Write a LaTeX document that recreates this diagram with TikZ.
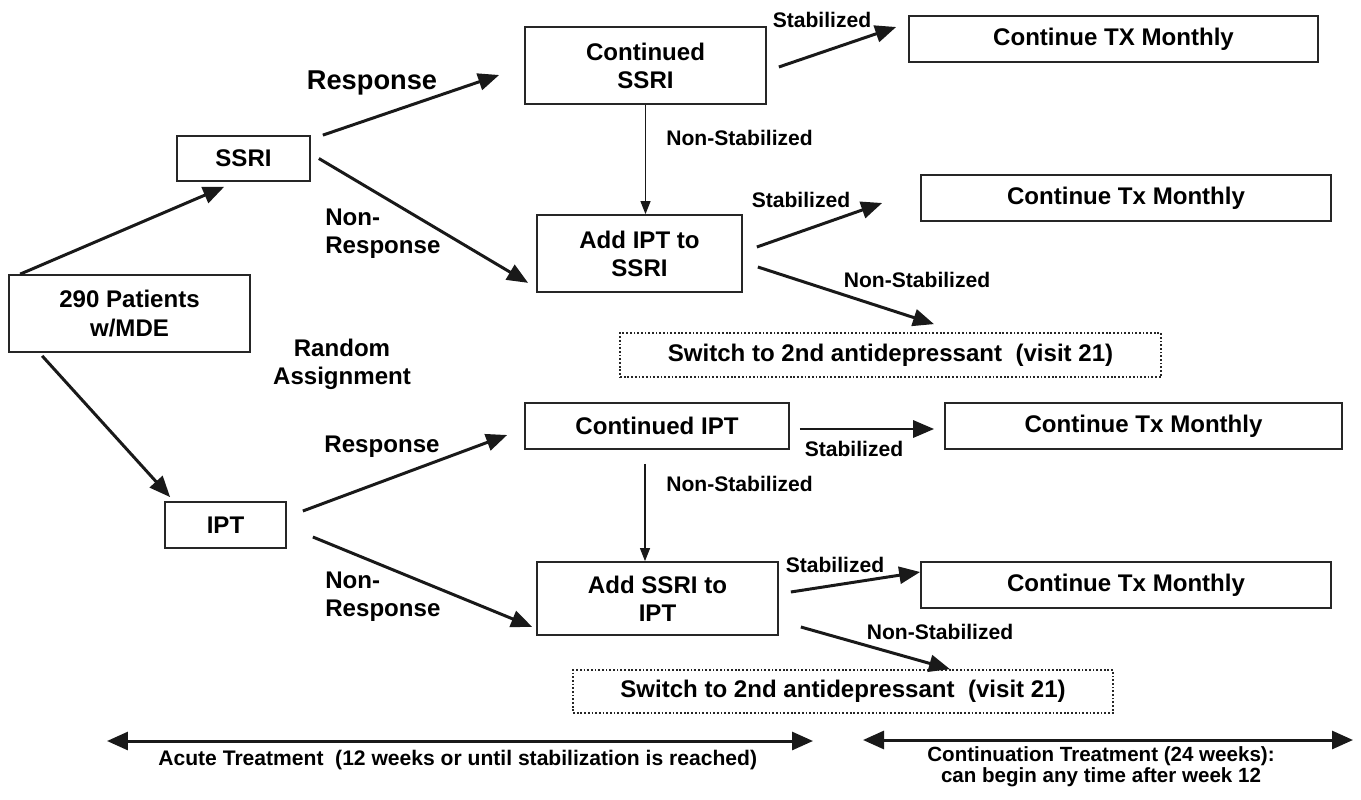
\documentclass[tikz,border=0pt]{standalone}
\usepackage{fontspec}
\setmainfont{Liberation Sans}
\usetikzlibrary{calc,arrows.meta}
\newcommand{\boxfont}{\fontsize{13.7}{16}\selectfont\bfseries}
\newcommand{\bigfont}{\fontsize{15.5}{18}\selectfont\bfseries}
\newcommand{\labfont}{\fontsize{12}{14}\selectfont\bfseries}
\newcommand{\footfont}{\fontsize{11.7}{10.2}\selectfont\bfseries}

\begin{document}
\begin{tikzpicture}[
  x=0.02cm,y=-0.02cm,
  font=\boxfont,
  box/.style={draw=black!85, line width=1pt, inner sep=0pt, align=center, font=\boxfont},
  dotbox/.style={box, dash pattern=on 1pt off 1.1pt},
  arr/.style={line width=1.7pt, draw=black!90, -{Triangle[length=0.42cm,width=0.34cm]}},
  thinarr/.style={line width=0.6pt, draw=black!90, -{Triangle[length=0.26cm,width=0.2cm]}},
  span/.style={line width=1.7pt, draw=black!90, {Triangle[length=0.42cm,width=0.36cm]}-{Triangle[length=0.42cm,width=0.36cm]}},
  lbl/.style={inner sep=0pt, font=\boxfont, align=left},
  small/.style={inner sep=0pt, font=\labfont}
]
  \useasboundingbox (0,0) rectangle (1361,800);

  % boxes
  \node[box, minimum width=4.82cm, minimum height=1.54cm] (pat) at (129.5,313.5) {290 Patients\\w/MDE};
  \node[box, minimum width=2.66cm, minimum height=0.9cm] (ssri) at (243.5,158.5) {SSRI};
  \node[box, minimum width=2.42cm, minimum height=0.92cm] (ipt) at (225.5,525) {IPT};
  \node[box, minimum width=4.82cm, minimum height=1.54cm] (cssri) at (645.5,65.5) {Continued\\SSRI};
  \node[box, minimum width=4.1cm, minimum height=1.54cm] (addipt) at (639.5,253.5) {Add IPT to\\SSRI};
  \node[box, minimum width=5.28cm, minimum height=0.92cm] (cipt) at (657,426) {Continued IPT};
  \node[box, minimum width=4.82cm, minimum height=1.46cm] (addssri) at (657.5,598.5) {Add SSRI to\\IPT};
  \node[box, minimum width=8.18cm, minimum height=0.92cm] (ctxa) at (1113.5,39) {Continue TX Monthly};
  \node[box, minimum width=8.2cm, minimum height=0.92cm] (ctxb) at (1126,198) {Continue Tx Monthly};
  \node[box, minimum width=7.94cm, minimum height=0.92cm] (ctxc) at (1143.5,426) {Continue Tx Monthly};
  \node[box, minimum width=8.2cm, minimum height=0.92cm] (ctxd) at (1126,585) {Continue Tx Monthly};
  \node[dotbox, minimum width=10.82cm, minimum height=0.88cm] (swa) at (890.5,355) {Switch to 2nd antidepressant~ (visit 21)};
  \node[dotbox, minimum width=10.8cm, minimum height=0.86cm] (swb) at (843,691.5) {Switch to 2nd antidepressant~ (visit 21)};

  % labels
  \node[lbl, font=\bigfont] (respa) at (372,83) {Response};
  \node[lbl, anchor=west] (nonrespa) at (325,234) {Non-\\Response};
  \node[lbl, align=center] (random) at (342,364) {Random\\Assignment};
  \node[lbl] (respb) at (382,447) {Response};
  \node[lbl, anchor=west] (nonrespb) at (325,597) {Non-\\Response};
  \node[small, anchor=west] (nonstaba) at (666,138) {Non-Stabilized};
  \node[small] (staba) at (822,20) {Stabilized};
  \node[small] (stabb) at (801,200) {Stabilized};
  \node[small] (nonstabb) at (917,280) {Non-Stabilized};
  \node[small, anchor=west] (nonstabc) at (666,484) {Non-Stabilized};
  \node[small] (stabc) at (854,449) {Stabilized};
  \node[small] (stabd) at (835,565) {Stabilized};
  \node[small] (nonstabd) at (940,632) {Non-Stabilized};

  % connectors
  \draw[arr] ($(pat.north west)+(12,0)$) -- ($(ssri.south west)+(48,5)$);
  \draw[arr] ($(pat.south west)+(34,3)$) -- ($(ipt.north west)+(6,-4)$);
  \draw[arr] ($(ssri.north east)+(12,0)$) -- ($(cssri.west)+(-25,9.5)$);
  \draw[arr] ($(ssri.east)+(8,0)$) -- ($(addipt.south west)+(-8,-10)$);
  \draw[thinarr] (cssri.south) -- (cssri.south |- addipt.north);
  \draw[arr] ($(cssri.east)+(12,1.5)$) -- ($(ctxa.west)+(-12,-12)$);
  \draw[arr] ($(addipt.east)+(14,-6.5)$) -- ($(ctxb.west)+(-38,5)$);
  \draw[arr] ($(addipt.east)+(15,13.5)$) -- ($(swa.north)+(43.5,-8)$);
  \draw[arr] ($(ipt.east)+(16,-14)$) -- ($(cipt.west)+(-17,9)$);
  \draw[arr] ($(ipt.east)+(26,12)$) -- ($(addssri.south west)+(-4,-9)$);
  \draw[thinarr] ($(cipt.south)+(-12,14)$) coordinate (vtop) -- (vtop |- addssri.north);
  \draw[arr] ($(cipt.east)+(10,3)$) -- ($(ctxc.west)+(-10,3)$);
  \draw[arr] ($(addssri.east)+(12,-6.5)$) -- ($(ctxd.west)+(0,-13)$);
  \draw[arr] ($(addssri.east)+(22,28.5)$) -- ($(swb.north)+(107,0)$);

  % time spans
  \coordinate (acutel) at (107,741);
  \coordinate (acuter) at (813,741);
  \coordinate (contl) at (863,740);
  \coordinate (contr) at (1353,740);
  \draw[span] (acutel) -- (acuter);
  \draw[span] (contl) -- (contr);
  \node[small, anchor=west] (acute) at (158,760) {Acute Treatment~ (12 weeks or until stabilization is reached)};
  \node[small, align=center, font=\footfont] (cont) at (1101,767) {Continuation Treatment (24 weeks):\\can begin any time after week 12};
\end{tikzpicture}
\end{document}
